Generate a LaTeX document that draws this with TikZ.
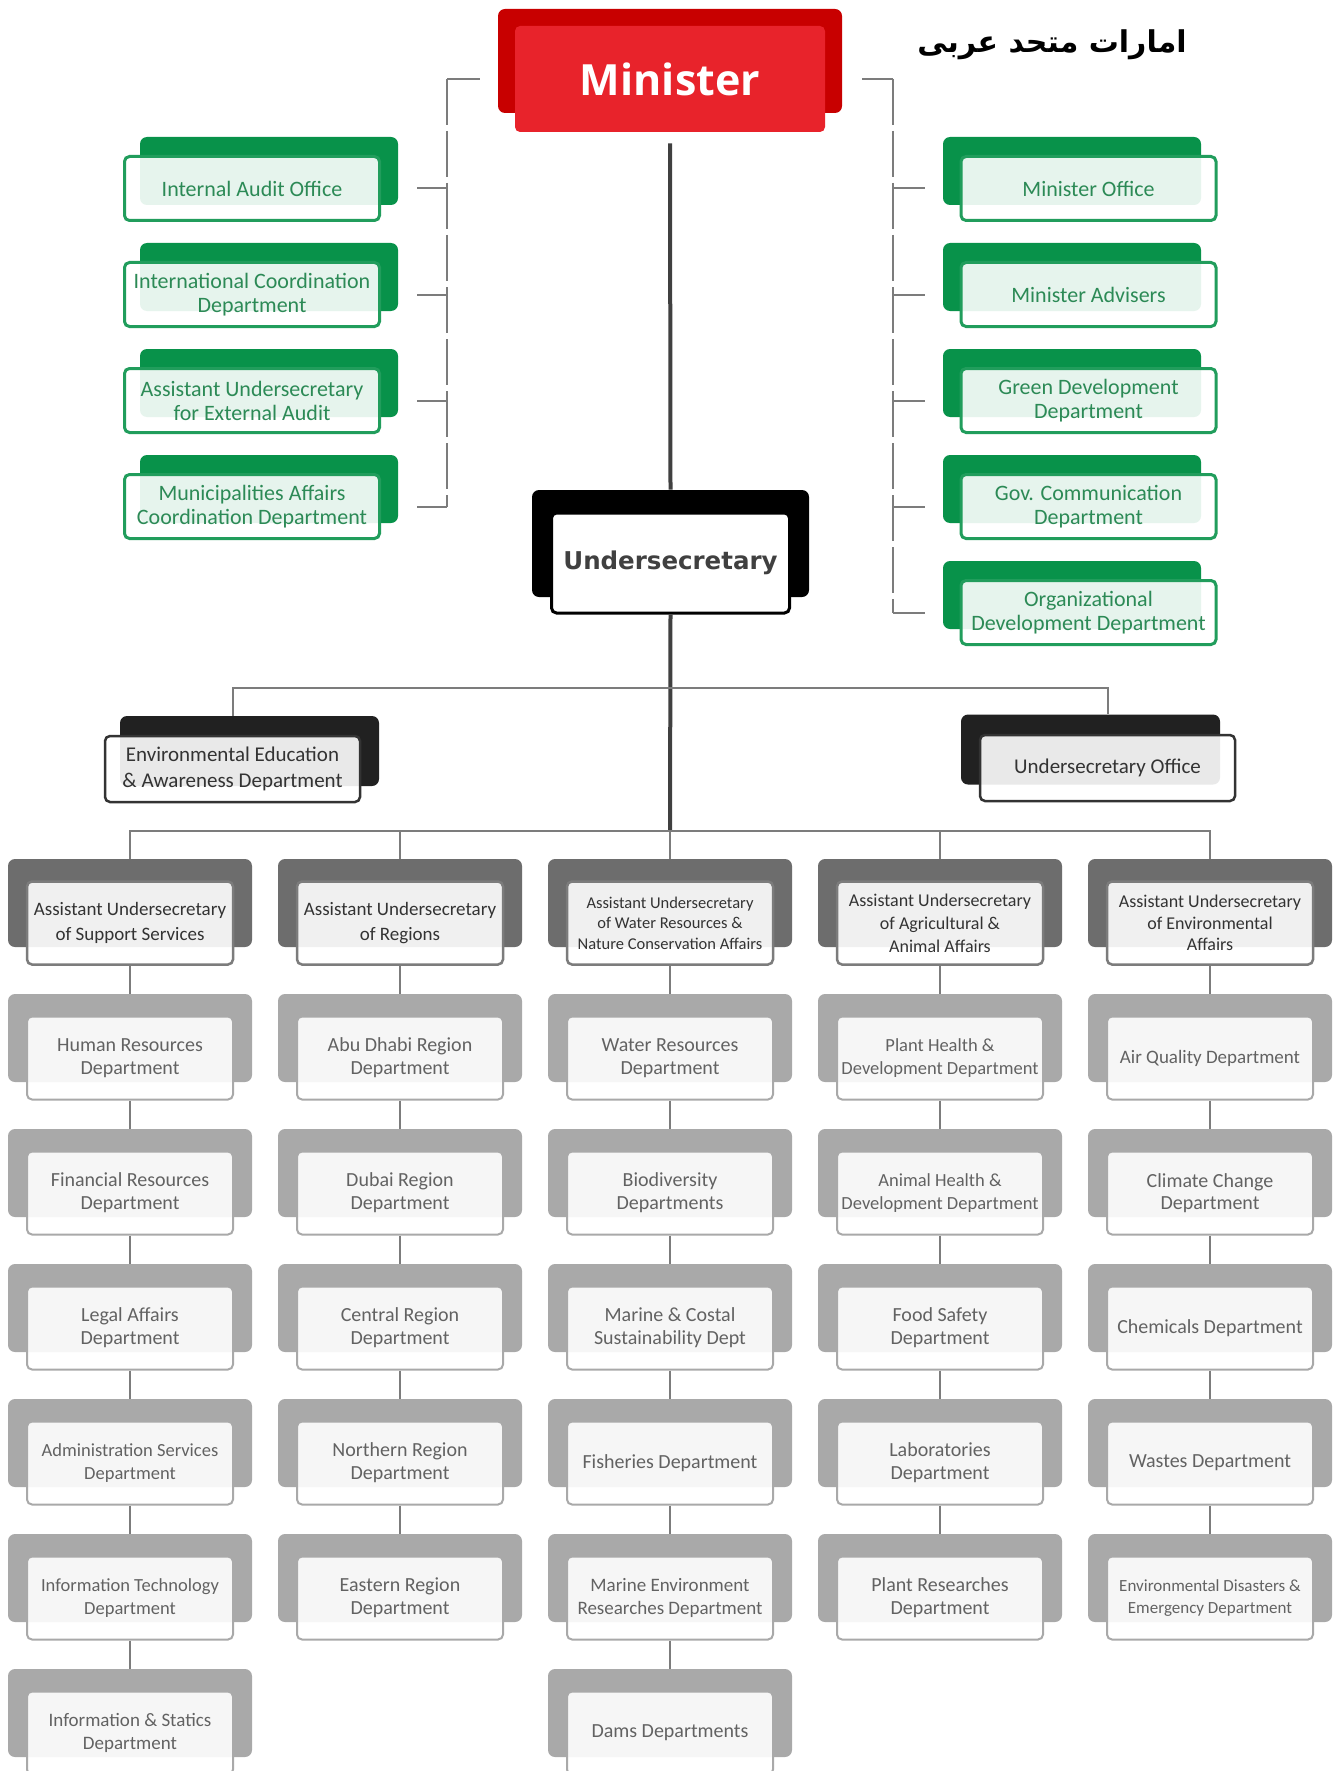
\documentclass[tikz,border=0pt]{standalone}
\usepackage{fontspec}
\setmainfont{Carlito}
\newfontfamily\minfont{Open Sans}
\newfontfamily\usecfont{DejaVu Sans}
\newfontfamily\arabicfont[Script=Arabic]{DejaVu Sans}
\TeXXeTstate=1
\usepackage{tikz}
\usetikzlibrary{positioning}

\definecolor{minred}{HTML}{C80000}
\definecolor{minlight}{HTML}{E8232B}
\definecolor{govgreen}{HTML}{08924A}
\definecolor{govtext}{HTML}{2C8A56}
\definecolor{asstgray}{HTML}{6D6D6D}
\definecolor{deptgray}{HTML}{A9A9A9}
\definecolor{depttext}{HTML}{626262}
\definecolor{linkgray}{HTML}{7C7C7C}

\begin{document}
\begin{tikzpicture}[x=1pt,y=-1pt,thick]

  
  \tikzstyle{back}=[inner sep=0pt,rounded corners=7pt]
  \tikzstyle{front}=[inner sep=0pt,rounded corners=5pt,fill=white,fill opacity=0.9,text opacity=1,align=center]
  \tikzstyle{greenback}=[back,fill=govgreen,minimum width=258pt,minimum height=68pt]
  \tikzstyle{greenfront}=[front,draw=govgreen!90!white,line width=3pt,minimum width=255pt,minimum height=64pt,text=govtext,font=\fontsize{22}{24}\selectfont]
  \tikzstyle{darkback}=[back,fill=black!87,minimum width=259pt,minimum height=70pt]
  \tikzstyle{darkfront}=[front,draw=black!80,line width=2.5pt,minimum width=255pt,minimum height=66pt,text=black!80,font=\fontsize{21}{26}\selectfont]
  \tikzstyle{asstback}=[back,fill=asstgray,minimum width=244pt,minimum height=88pt]
  \tikzstyle{asstfront}=[front,draw=asstgray!90,line width=2.5pt,minimum width=206pt,minimum height=83pt,text=black!80]
  \tikzstyle{deptback}=[back,fill=deptgray,minimum width=244pt,minimum height=88pt]
  \tikzstyle{deptfront}=[front,draw=deptgray,line width=2pt,minimum width=206pt,minimum height=83pt,text=depttext]
  \tikzstyle{link}=[draw=linkgray,line width=2pt]
  \tikzstyle{trunk}=[draw=black!75,line width=4pt]
  \tikzstyle{bracket}=[draw=linkgray,line width=2pt]

  \fill[white] (0,0) rectangle (1333,1771);
  \useasboundingbox (0,0) rectangle (1333,1771);

  
  \node[font=\arabicfont\bfseries\fontsize{30}{36}\selectfont] (title) at (1052,45) {\beginR امارات متحد عربی\endR};

  
  \node[back,fill=minred,minimum width=344pt,minimum height=104pt] (minister-b) at (670,61) {};
  \node[back,fill=minlight,minimum width=310pt,minimum height=106pt,rounded corners=5pt,text=white,font=\minfont\bfseries\fontsize{43}{50}\selectfont] (minister) at (670,79) {Minister};

  \node[back,fill=black,minimum width=277pt,minimum height=107pt] (usec-b) at (670.5,543.5) {};
  \node[front,fill opacity=1,draw=black,line width=3pt,minimum width=238pt,minimum height=100pt,text=black!75,font=\usecfont\bfseries\fontsize{24.5}{28}\selectfont] (usec) at (670.5,563) {Undersecretary};

  
  \foreach \t [count=\k] in {Internal Audit Office, International Coordination\\Department, Assistant Undersecretary\\for External Audit, Municipalities Affairs\\Coordination Department}
  {
    \node[greenback] (lb\k-b) at (269,65+106*\k) {};
    \node[greenfront] (lb\k) at (252,82.5+106*\k) {\t};
  }
  \foreach \t [count=\k] in {Minister Office, Minister Advisers, Green Development\\Department, Gov. Communication\\Department, Organizational\\Development Department}
  {
    \node[greenback] (rb\k-b) at (1072,65+106*\k) {};
    \node[greenfront] (rb\k) at (1088.5,82.5+106*\k) {\t};
  }

  
  \node[darkback] (env-b) at (249.5,751) {};
  \node[darkfront] (env) at (232.5,769) {Environmental Education\\\& Awareness Department};
  \node[darkback] (uoff-b) at (1090.5,749.5) {};
  \node[darkfront] (uoff) at (1107.5,768) {Undersecretary Office};

  
  \foreach \n/\x/\t/\f/\s in {s0/130/{Assistant Undersecretary\\of Support Services}/19/25,
      r0/400/{Assistant Undersecretary\\of Regions}/19/25,
      w0/670/{Assistant Undersecretary\\of Water Resources \&\\Nature Conservation Affairs}/16.5/20.5,
      g0/940/{Assistant Undersecretary\\of Agricultural \&\\Animal Affairs}/18/23,
      e0/1210/{Assistant Undersecretary\\of Environmental\\Affairs}/18/21.5}
  {
    \node[asstback] (\n-b) at (\x,903) {};
    \node[asstfront,font=\fontsize{\f}{\s}\selectfont] (\n) at (\x,923) {\t};
  }

  
  \foreach \t/\f [count=\k] in {Human Resources\\Department/20, Financial Resources\\Department/20, Legal Affairs\\Department/20, Administration Services\\Department/18.5, Information Technology\\Department/18.5, Information \& Statics\\Department/19}
  {
    \pgfmathtruncatemacro\j{\k-1}
    \node[deptback] (s\k-b) at (130,903+135*\k) {};
    \node[deptfront,font=\fontsize{\f}{23}\selectfont] (s\k) at (130,923+135*\k) {\t};
    \draw[link] (s\j.south) -- (s\k-b.north);
  }
  \foreach \t/\f [count=\k] in {Abu Dhabi Region\\Department/20, Dubai Region\\Department/20, Central Region\\Department/20, Northern Region\\Department/20, Eastern Region\\Department/20}
  {
    \pgfmathtruncatemacro\j{\k-1}
    \node[deptback] (r\k-b) at (400,903+135*\k) {};
    \node[deptfront,font=\fontsize{\f}{23}\selectfont] (r\k) at (400,923+135*\k) {\t};
    \draw[link] (r\j.south) -- (r\k-b.north);
  }
  \foreach \t/\f [count=\k] in {Water Resources\\Department/20, Biodiversity\\Departments/20, Marine \& Costal\\Sustainability Dept/20, Fisheries Department/20, Marine Environment\\Researches Department/19, Dams Departments/20}
  {
    \pgfmathtruncatemacro\j{\k-1}
    \node[deptback] (w\k-b) at (670,903+135*\k) {};
    \node[deptfront,font=\fontsize{\f}{23}\selectfont] (w\k) at (670,923+135*\k) {\t};
    \draw[link] (w\j.south) -- (w\k-b.north);
  }
  \foreach \t/\f [count=\k] in {Plant Health \&\\Development Department/18.5, Animal Health \&\\Development Department/18.5, Food Safety\\Department/20, Laboratories\\Department/20, Plant Researches\\Department/20}
  {
    \pgfmathtruncatemacro\j{\k-1}
    \node[deptback] (g\k-b) at (940,903+135*\k) {};
    \node[deptfront,font=\fontsize{\f}{23}\selectfont] (g\k) at (940,923+135*\k) {\t};
    \draw[link] (g\j.south) -- (g\k-b.north);
  }
  \foreach \t/\f [count=\k] in {Air Quality Department/19, Climate Change\\Department/20, Chemicals Department/20, Wastes Department/20, Environmental Disasters \&\\Emergency Department/17}
  {
    \pgfmathtruncatemacro\j{\k-1}
    \node[deptback] (e\k-b) at (1210,903+135*\k) {};
    \node[deptfront,font=\fontsize{\f}{22}\selectfont] (e\k) at (1210,923+135*\k) {\t};
    \draw[link] (e\j.south) -- (e\k-b.north);
  }

  
  \coordinate (lspine) at (447,79);
  \coordinate (rspine) at (893,79);
  \draw[bracket,shorten <=35pt] (minister.west) -- (lspine);
  \draw[bracket,dash pattern=on 46pt off 6pt] (lspine) -- (lspine |- lb4.east);
  \foreach \k in {1,...,4}
    \draw[bracket,shorten >=36pt] (lspine |- lb\k.east) -- (lb\k.east);
  \draw[bracket,shorten <=37pt] (minister.east) -- (rspine);
  \draw[bracket,dash pattern=on 46pt off 6pt] (rspine) -- (rspine |- rb5.west);
  \foreach \k in {1,...,5}
    \draw[bracket,shorten >=35pt] (rspine |- rb\k.west) -- (rb\k.west);

  
  \draw[trunk,shorten <=11pt] (minister.south) -- (usec-b.north);
  \coordinate (bar) at (670,831);
  \coordinate (midbar) at (670,688);
  \draw[trunk] (usec.south) -- (bar);
  \draw[link] (env-b.north -| env) |- (midbar) -| (uoff-b.north -| uoff);
  \draw[link] (s0-b.north) |- (bar) -| (e0-b.north);
  \foreach \n in {r0,w0,g0}
    \draw[link] (bar -| \n-b.north) -- (\n-b.north);

\end{tikzpicture}
\end{document}
